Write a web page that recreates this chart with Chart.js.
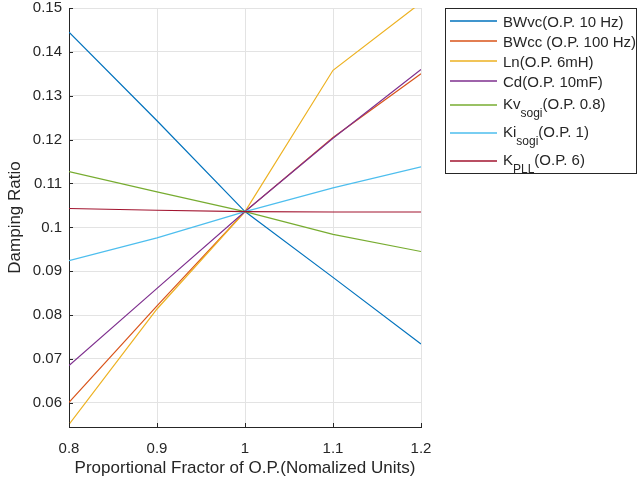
<!DOCTYPE html>
<html>
<head>
<meta charset="utf-8">
<title>Damping Ratio vs Operating Point</title>
<script src="https://cdn.jsdelivr.net/npm/chart.js@4.4.1/dist/chart.umd.min.js"></script>
<style>
  body { margin: 0; background: #fff; }
  #container { width: 638px; height: 484px; }
</style>
</head>
<body>
<div id="container"><canvas id="canvas" width="638" height="484"></canvas></div>
<script>

// proportional factor of the operating point (x axis)
var factors = [0.8, 0.9, 1.0, 1.1, 1.2];

// damping ratio per parameter sweep
var bwvc   = [0.1445, 0.1243, 0.1036, 0.0886, 0.0734];
var bwcc   = [0.0601, 0.0821, 0.1036, 0.1205, 0.1350];
var ln     = [0.0551, 0.0814, 0.1036, 0.1358, 0.1512];
var cd     = [0.0685, 0.0861, 0.1036, 0.1203, 0.1360];
var kvSogi = [0.1127, 0.1081, 0.1036, 0.0984, 0.0945];
var kiSogi = [0.0924, 0.0976, 0.1036, 0.1090, 0.1138];
var kPll   = [0.1043, 0.1039, 0.1036, 0.1035, 0.1035];

var xTicks = [0.8, 0.9, 1, 1.1, 1.2];
var yTicks = [0.06, 0.07, 0.08, 0.09, 0.1, 0.11, 0.12, 0.13, 0.14, 0.15];

// legend text: main part, subscript, rest
var labelMain = ['BWvc(O.P. 10 Hz)', 'BWcc (O.P. 100 Hz)', 'Ln(O.P. 6mH)', 'Cd(O.P. 10mF)', 'Kv', 'Ki', 'K'];
var labelSub  = ['', '', '', '', 'sogi', 'sogi', 'PLL'];
var labelTail = ['', '', '', '', '(O.P. 0.8)', '(O.P. 1)', '(O.P. 6)'];

var series = [bwvc, bwcc, ln, cd, kvSogi, kiSogi, kPll];
var lineColors = ['#0072BD', '#D95319', '#EDB120', '#7E2F8E', '#77AC30', '#4DBEEE', '#A2142F'];

var FONT = "'Liberation Sans', Arial, Helvetica, sans-serif";
var AXIS_COLOR = '#262626';

var datasets = [];
for (var i = 0; i < series.length; i++) {
  var pts = [];
  for (var j = 0; j < factors.length; j++) {
    pts.push({ x: factors[j], y: series[i][j] });
  }
  datasets.push({
    label: labelMain[i] + labelSub[i] + labelTail[i],
    data: pts,
    borderColor: lineColors[i],
    backgroundColor: lineColors[i],
    borderWidth: 1.2,
    pointRadius: 0,
    tension: 0,
    fill: false,
    // later series painted on top
    order: series.length - i
  });
}

// small inward tick marks on the two axis lines
var innerTicks = {
  id: 'innerTicks',
  afterDatasetsDraw: function(chart) {
    var c = chart.ctx;
    var a = chart.chartArea;
    var xs = chart.scales.x, ys = chart.scales.y;
    c.save();
    c.strokeStyle = AXIS_COLOR;
    c.lineWidth = 1;
    c.beginPath();
    xs.ticks.forEach(function(t) {
      var px = Math.round(xs.getPixelForValue(t.value)) + 0.5;
      c.moveTo(px, a.bottom);
      c.lineTo(px, a.bottom - 4);
    });
    ys.ticks.forEach(function(t) {
      var py = Math.round(ys.getPixelForValue(t.value)) + 0.5;
      c.moveTo(a.left, py);
      c.lineTo(a.left + 4, py);
    });
    c.stroke();
    c.restore();
  }
};

// boxed legend to the right of the axes, with subscripts
var subLegend = {
  id: 'subLegend',
  afterDraw: function(chart) {
    var c = chart.ctx;
    var bx = 445.5, by = 8.5, bw = 191, bh = 165;
    c.save();
    c.fillStyle = '#fff';
    c.fillRect(bx, by, bw, bh);
    c.lineWidth = 1;
    c.strokeStyle = AXIS_COLOR;
    c.strokeRect(bx, by, bw, bh);

    var y = 20.5;
    for (var k = 0; k < labelMain.length; k++) {
      var hasSub = labelSub[k] !== '';
      if (k > 0) {
        y += 20 + (hasSub ? 4 : 0) + (labelSub[k - 1] !== '' ? 4 : 0);
      }
      var ly = Math.round(y);
      c.beginPath();
      c.moveTo(450, ly);
      c.lineTo(497, ly);
      c.lineWidth = 1.6;
      c.strokeStyle = lineColors[k];
      c.stroke();

      var base = y + (hasSub ? 4 : 6);
      var tx = 503;
      c.fillStyle = AXIS_COLOR;
      c.textBaseline = 'alphabetic';
      c.textAlign = 'left';
      c.font = '15px ' + FONT;
      c.fillText(labelMain[k], tx, base);
      if (hasSub) {
        tx += c.measureText(labelMain[k]).width;
        c.font = '12px ' + FONT;
        c.fillText(labelSub[k], tx, base + 8);
        tx += c.measureText(labelSub[k]).width;
        c.font = '15px ' + FONT;
        c.fillText(labelTail[k], tx, base);
      }
    }
    c.restore();
  }
};

function fmt(v) {
  return String(+Number(v).toFixed(3));
}

var canvasCtx = document.getElementById('canvas').getContext('2d');
window.dampingChart = new Chart(canvasCtx, {
  type: 'line',
  data: { datasets: datasets },
  plugins: [innerTicks, subLegend],
  options: {
    responsive: false,
    animation: false,
    devicePixelRatio: 1,
    layout: { padding: { top: 8, right: 217, left: 0, bottom: 0 } },
    plugins: {
      legend: { display: false },
      tooltip: { enabled: false }
    },
    scales: {
      x: {
        type: 'linear',
        min: 0.8,
        max: 1.2,
        afterBuildTicks: function(scale) {
          scale.ticks = xTicks.map(function(v) { return { value: v }; });
        },
        afterFit: function(scale) {
          scale.height = 57;
          scale.paddingLeft = 0;
          scale.paddingRight = 0;
        },
        grid: { color: '#e3e3e3', drawTicks: false },
        border: { color: AXIS_COLOR, width: 1 },
        ticks: {
          autoSkip: false,
          maxRotation: 0,
          padding: 13,
          color: AXIS_COLOR,
          font: { family: FONT, size: 15 },
          callback: function(v) { return fmt(v); }
        },
        title: {
          display: true,
          text: 'Proportional Fractor of O.P.(Nomalized Units)',
          color: AXIS_COLOR,
          font: { family: FONT, size: 17 },
          padding: { top: 0, bottom: 5 }
        }
      },
      y: {
        type: 'linear',
        min: 0.0545,
        max: 0.15,
        afterBuildTicks: function(scale) {
          scale.ticks = yTicks.map(function(v) { return { value: v }; });
        },
        afterFit: function(scale) {
          scale.width = 69;
          scale.paddingTop = 0;
          scale.paddingBottom = 0;
        },
        grid: { color: '#e3e3e3', drawTicks: false },
        border: { color: AXIS_COLOR, width: 1 },
        ticks: {
          autoSkip: false,
          padding: 7,
          color: AXIS_COLOR,
          font: { family: FONT, size: 15 },
          callback: function(v) { return fmt(v); }
        },
        title: {
          display: true,
          text: 'Damping Ratio',
          color: AXIS_COLOR,
          font: { family: FONT, size: 17 },
          padding: { top: 5, bottom: 0 }
        }
      }
    }
  }
});

</script>
</body>
</html>
